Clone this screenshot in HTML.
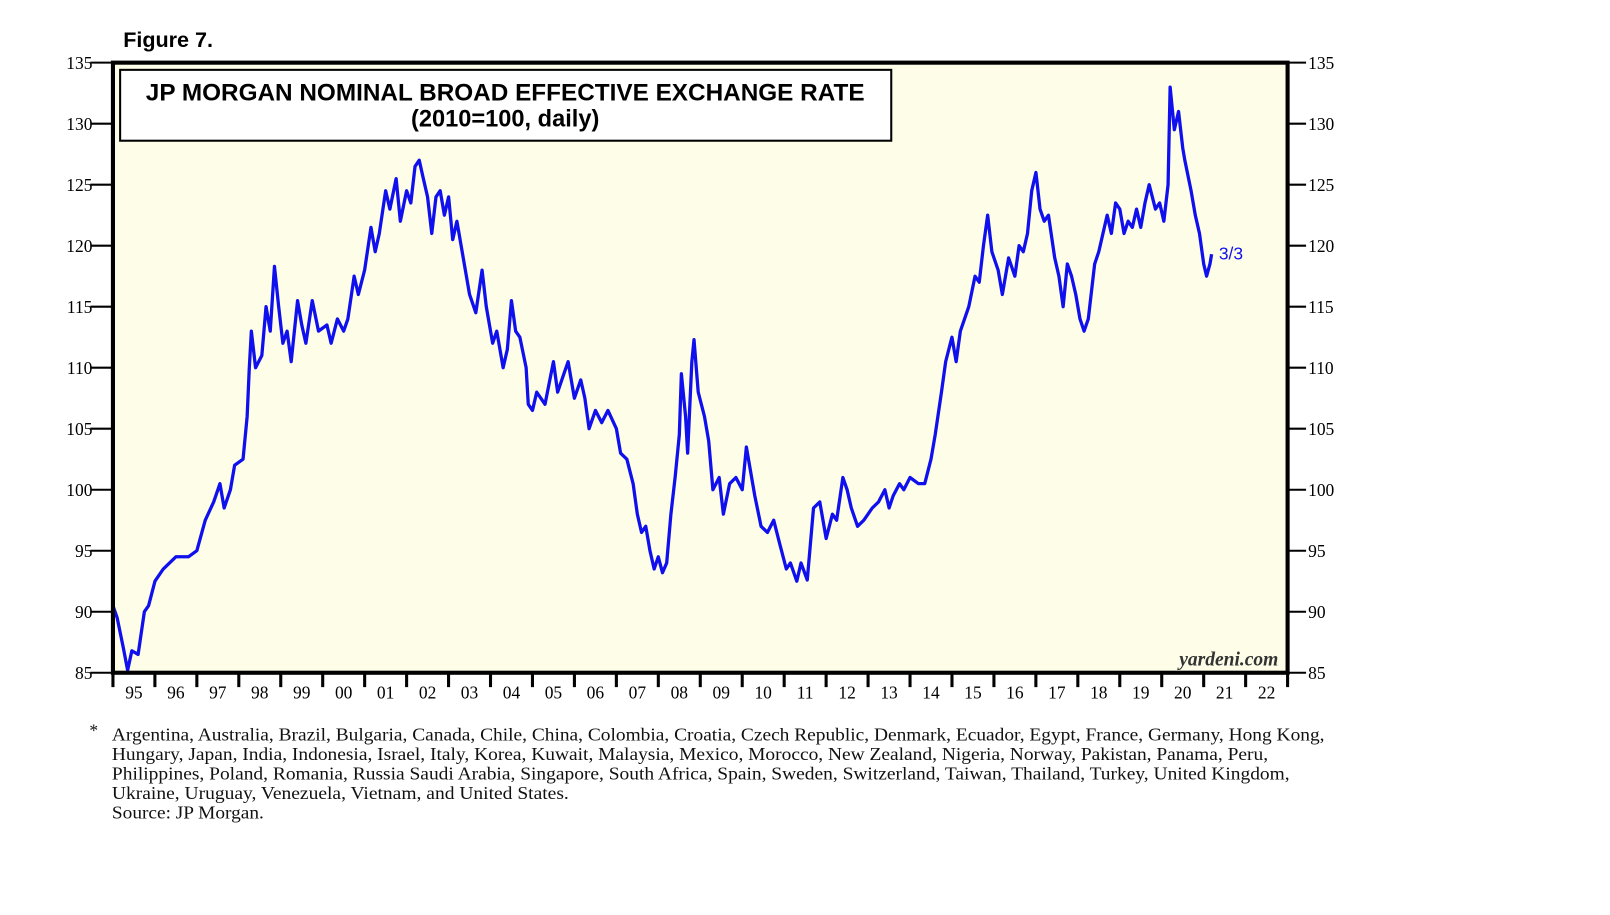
<!DOCTYPE html>
<html><head><meta charset="utf-8"><style>
body{margin:0;background:#fff;width:1610px;height:910px;overflow:hidden;font-family:"Liberation Serif",serif}
</style></head><body>
<svg width="1610" height="910" viewBox="0 0 1568 886" preserveAspectRatio="none" id="svg" xmlns="http://www.w3.org/2000/svg">
<text x="120" y="46" font-family="Liberation Sans, sans-serif" font-weight="bold" font-size="21">Figure 7.</text>
<rect x="110" y="61" width="1144" height="594" fill="#fefee8"/>
<g id="grid"></g>
<polyline id="line" fill="none" stroke="#1010ee" stroke-width="3.2" stroke-linejoin="round"/>
<rect x="110" y="61" width="1144" height="594" fill="none" stroke="#000" stroke-width="4"/>
<rect x="117" y="68" width="751" height="69" fill="#fff" stroke="#000" stroke-width="2"/>
<text x="142" y="98" textLength="700" lengthAdjust="spacingAndGlyphs" font-family="Liberation Sans, sans-serif" font-weight="bold" font-size="23">JP MORGAN NOMINAL BROAD EFFECTIVE EXCHANGE RATE</text>
<text x="492" y="123" text-anchor="middle" font-family="Liberation Sans, sans-serif" font-weight="bold" font-size="23">(2010=100, daily)</text>
<text x="1245" y="648" text-anchor="end" font-style="italic" font-weight="bold" font-size="19" fill="#333">yardeni.com</text>
<text id="endlbl" font-family="Liberation Sans, sans-serif" font-size="17" fill="#1010ee">3/3</text>
<g font-size="17" fill="#111">
<text x="87" y="717">*</text>
<text x="109" y="721" textLength="1181" lengthAdjust="spacingAndGlyphs">Argentina, Australia, Brazil, Bulgaria, Canada, Chile, China, Colombia, Croatia, Czech Republic, Denmark, Ecuador, Egypt, France, Germany, Hong Kong,</text>
<text x="109" y="740" textLength="1126" lengthAdjust="spacingAndGlyphs">Hungary, Japan, India, Indonesia, Israel, Italy, Korea, Kuwait, Malaysia, Mexico, Morocco, New Zealand, Nigeria, Norway, Pakistan, Panama, Peru,</text>
<text x="109" y="759" textLength="1147" lengthAdjust="spacingAndGlyphs">Philippines, Poland, Romania, Russia Saudi Arabia, Singapore, South Africa, Spain, Sweden, Switzerland, Taiwan, Thailand, Turkey, United Kingdom,</text>
<text x="109" y="778" textLength="445" lengthAdjust="spacingAndGlyphs">Ukraine, Uruguay, Venezuela, Vietnam, and United States.</text>
<text x="109" y="797" textLength="148" lengthAdjust="spacingAndGlyphs">Source: JP Morgan.</text>
</g>
</svg>
<script>
const yTicks=[85,90,95,100,105,110,115,120,125,130,135];
const yearLabels=["95","96","97","98","99","00","01","02","03","04","05","06","07","08","09","10","11","12","13","14","15","16","17","18","19","20","21","22"];
const dates=[1995.0,1995.1,1995.25,1995.35,1995.45,1995.6,1995.75,1995.85,1996.0,1996.2,1996.5,1996.8,1997.0,1997.2,1997.4,1997.55,1997.65,1997.8,1997.9,1998.1,1998.2,1998.25,1998.3,1998.4,1998.55,1998.65,1998.75,1998.85,1998.95,1999.05,1999.15,1999.25,1999.4,1999.5,1999.6,1999.75,1999.9,2000.1,2000.2,2000.35,2000.5,2000.6,2000.75,2000.85,2001.0,2001.15,2001.25,2001.35,2001.5,2001.6,2001.75,2001.85,2002.0,2002.1,2002.2,2002.3,2002.4,2002.5,2002.6,2002.7,2002.8,2002.9,2003.0,2003.1,2003.2,2003.3,2003.5,2003.65,2003.8,2003.9,2004.05,2004.15,2004.3,2004.4,2004.5,2004.6,2004.7,2004.85,2004.9,2005.0,2005.1,2005.3,2005.5,2005.6,2005.75,2005.85,2006.0,2006.15,2006.25,2006.35,2006.5,2006.65,2006.8,2007.0,2007.1,2007.25,2007.4,2007.5,2007.6,2007.7,2007.8,2007.9,2008.0,2008.1,2008.2,2008.3,2008.4,2008.5,2008.55,2008.65,2008.7,2008.8,2008.85,2008.95,2009.1,2009.2,2009.3,2009.45,2009.55,2009.7,2009.85,2010.0,2010.1,2010.2,2010.3,2010.45,2010.6,2010.75,2010.9,2011.05,2011.15,2011.3,2011.4,2011.55,2011.7,2011.85,2012.0,2012.15,2012.25,2012.4,2012.5,2012.6,2012.75,2012.9,2013.1,2013.25,2013.4,2013.5,2013.6,2013.75,2013.85,2014.0,2014.2,2014.35,2014.5,2014.6,2014.75,2014.85,2015.0,2015.1,2015.2,2015.4,2015.55,2015.65,2015.75,2015.85,2015.95,2016.1,2016.2,2016.35,2016.5,2016.6,2016.7,2016.8,2016.9,2017.0,2017.1,2017.2,2017.3,2017.45,2017.55,2017.65,2017.75,2017.85,2017.95,2018.05,2018.15,2018.25,2018.4,2018.5,2018.7,2018.8,2018.9,2019.0,2019.1,2019.2,2019.3,2019.4,2019.5,2019.6,2019.7,2019.85,2019.95,2020.05,2020.15,2020.2,2020.3,2020.4,2020.5,2020.55,2020.7,2020.8,2020.9,2021.0,2021.07,2021.15,2021.19];
const values=[90.5,89.5,87,85.2,86.8,86.5,90,90.5,92.5,93.5,94.5,94.5,95,97.5,99,100.5,98.5,100,102,102.5,106,110,113,110,111,115,113,118.3,115,112,113,110.5,115.5,113.5,112,115.5,113,113.5,112,114,113,114,117.5,116,118,121.5,119.5,121,124.5,123,125.5,122,124.5,123.5,126.5,127,125.5,124,121,124,124.5,122.5,124,120.5,122,120,116,114.5,118,115,112,113,110,111.5,115.5,113,112.5,110,107,106.5,108,107,110.5,108,109.5,110.5,107.5,109,107.5,105,106.5,105.5,106.5,105,103,102.5,100.5,98,96.5,97,95,93.5,94.5,93.2,94,98,101,104.5,109.5,106,103,110.5,112.3,108,106,104,100,101,98,100.5,101,100,103.5,101.5,99.5,97,96.5,97.5,95.5,93.5,94,92.5,94,92.6,98.5,99,96,98,97.5,101,100,98.5,97,97.5,98.5,99,100,98.5,99.5,100.5,100,101,100.5,100.5,102.5,104.5,108,110.5,112.5,110.5,113,115,117.5,117,120,122.5,119.5,118,116,119,117.5,120,119.5,121,124.5,126,123,122,122.5,119,117.5,115,118.5,117.5,116,114,113,114,118.5,119.5,122.5,121,123.5,123,121,122,121.5,123,121.5,123.5,125,123,123.5,122,125,133,129.5,131,128,127,124.5,122.5,121,118.5,117.5,118.5,119.3];
const X0=110,X1=1254,Y0=655,Y1=61,T0=1995,T1=2023,V0=85,V1=135;
const sx=t=>X0+(t-T0)/(T1-T0)*(X1-X0);
const sy=v=>Y0-(v-V0)/(V1-V0)*(Y0-Y1);
const NS="http://www.w3.org/2000/svg",g=document.getElementById('grid');
function mk(tag,a,txt){const e=document.createElementNS(NS,tag);for(const k in a)e.setAttribute(k,a[k]);if(txt!==undefined)e.textContent=txt;g.appendChild(e);return e;}
yTicks.forEach(v=>{const y=sy(v);
 let e=mk('line',{x1:88,x2:110,y1:y,y2:y,stroke:'#000','stroke-width':2});
 
 
 e=mk('line',{x1:1254,x2:1272,y1:y,y2:y,stroke:'#000','stroke-width':2});
 
 
 e=mk('text',{x:90,y:y+6,'text-anchor':'end','font-size':17},v);
 
 
 e=mk('text',{x:1274,y:y+6,'font-size':17},v);
 
 
});
for(let i=0;i<=yearLabels.length;i++){const x=sx(T0+i);
 let e=mk('line',{x1:x,x2:x,y1:655,y2:669,stroke:'#000','stroke-width':3});
 
 
 if(i<yearLabels.length){e=mk('text',{x:sx(T0+i+0.5),y:680,'text-anchor':'middle','font-size':17},yearLabels[i]);
 
 }
}
document.getElementById('line').setAttribute('points',dates.map((d,i)=>sx(d).toFixed(1)+','+sy(values[i]).toFixed(1)).join(' '));
const L=document.getElementById('endlbl');L.setAttribute('x',sx(dates[dates.length-1])+7);L.setAttribute('y',sy(values[values.length-1])+5);
</script>
</body></html>
